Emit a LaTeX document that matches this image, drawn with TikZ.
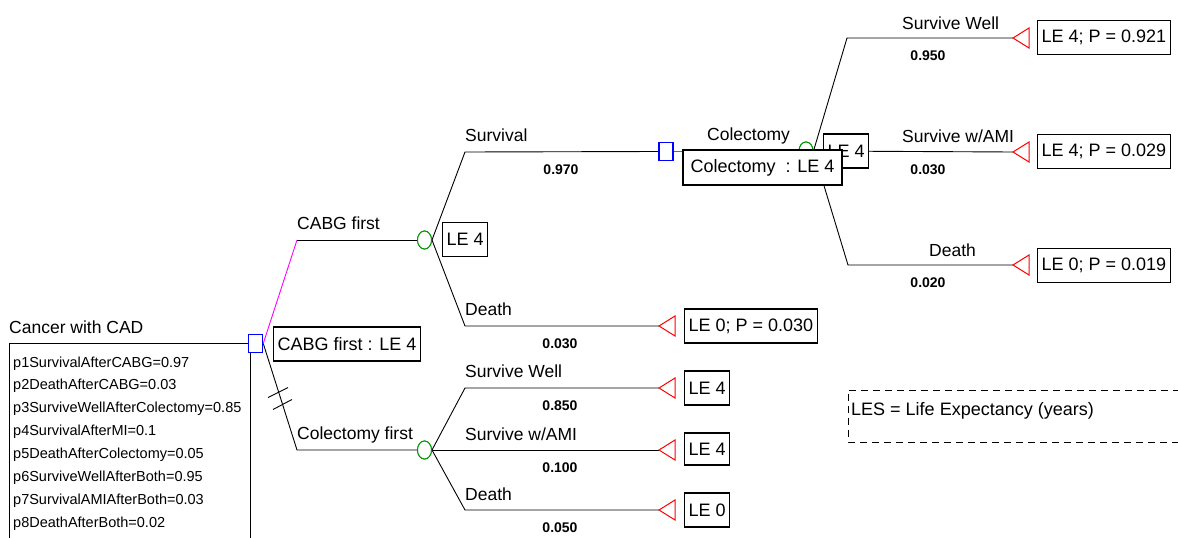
\documentclass[tikz,border=0pt]{standalone}
\usepackage{fontspec}
\setmainfont{Liberation Sans}
\usetikzlibrary{shapes.geometric}
\definecolor{dblue}{RGB}{0,0,255}
\definecolor{mag}{RGB}{255,0,255}
\definecolor{cgreen}{RGB}{0,150,0}
\definecolor{tred}{RGB}{255,0,0}
\tikzset{
  lbl/.style={font=\fontsize{17.5}{20}\selectfont, inner sep=0pt, anchor=base west},
  par/.style={font=\fontsize{14.5}{17}\selectfont, inner sep=0pt, anchor=base west},
  prob/.style={font=\bfseries\fontsize{14}{16}\selectfont, inner sep=0pt, anchor=base},
  box/.style={draw, line width=1.2pt, fill=white, font=\fontsize{18}{20}\selectfont, minimum height=34pt, inner xsep=4pt, inner ysep=0pt, anchor=west},
  decision/.style={draw=dblue, line width=1.5pt, fill=white, minimum width=14pt, minimum height=18pt, inner sep=0pt},
  chance/.style={draw=cgreen, line width=1pt, ellipse, fill=white, minimum width=14pt, minimum height=18pt, inner sep=0pt},
  edge/.style={line width=0.9pt, black},
  pedge/.style={line width=0.9pt, mag},
  term/.style={draw=tred, line width=1pt}
}
\begin{document}
\begin{tikzpicture}[x=1pt,y=-1pt]
\useasboundingbox[fill=white] (0,0) rectangle (1178,538);
% ---------- coordinates ----------
\coordinate (k1) at (297,240);
\coordinate (k2) at (297,450);
\coordinate (k3) at (465,152);
\coordinate (k4) at (465,326);
\coordinate (k5) at (847,38);
\coordinate (k6) at (848,265);
\coordinate (k7) at (465,388);
\coordinate (k8) at (465,510);
\coordinate (tD1) at (659,326);
\coordinate (t1) at (1013,38);
\coordinate (t2) at (1013,152);
\coordinate (t3) at (1013,265);
\coordinate (t4) at (659,388);
\coordinate (t5) at (659,450);
\coordinate (t6) at (659,510);
\coordinate (pbL) at (9,538);
\coordinate (pbR) at (250,538);
% ---------- nodes (decision / chance) ----------
\node[decision] (d0) at (255.5,343.5) {};
\node[chance] (c1) at (424.5,240) {};
\node[chance] (c2) at (424.5,450) {};
\node[decision] (d2) at (666,151.5) {};
\node[chance] (c3) at (806,151) {};
% ---------- connectors ----------
\draw[edge] (pbL) -- (pbL |- d0) -- (d0.west);
\draw[edge] (d0.south -| pbR) -- (pbR);
\draw[pedge] (d0.east) -- (k1);
\draw[edge] (k1) -- (c1.west);
\draw[edge] (d0.east) -- (k2) -- (c2.west);
\draw[edge] (c1.east) -- (k3) -- (d2.west);
\draw[edge] (c1.east) -- (k4) -- (tD1);
\draw[pedge] (d2.east) -- (c3.west);
\draw[edge] (c3.east) -- (k5) -- (t1);
\draw[edge] (c3.east) -- (t2);
\draw[edge] (c3.east) -- (k6) -- (t3);
\draw[edge] (c2.east) -- (k7) -- (t4);
\draw[edge] (c2.east) -- (t5);
\draw[edge] (c2.east) -- (k8) -- (t6);
% hash marks on the Colectomy-first branch
\draw[edge] (268,397.5) -- (288,387.5);
\draw[edge] (273,409.5) -- (292,399.5);
% redraw node outlines on top of lines
\node[decision] at (d0) {};
\node[chance] at (c1) {};
\node[chance] at (c2) {};
\node[decision] at (d2) {};
\node[chance] at (c3) {};
% ---------- terminal triangles ----------
\foreach \t in {tD1,t1,t2,t3,t4,t5,t6}
  \draw[term] (\t) -- ++(16,-10) -- ++(0,20) -- cycle;
% ---------- boxes ----------
\node[box] (b0) at (273,344) {CABG first : LE 4};
\node[box] (b1) at (442,239.5) {LE 4};
\node[box] (b2back) at (823,151) {LE 4};
\node[box, anchor=center, minimum width=159pt, minimum height=35pt] (b2) at (762.5,167.5) {Colectomy~~: LE 4};
\node[box] (e1) at (684,326) {LE 0; P = 0.030};
\node[box] (e2) at (684,388) {LE 4};
\node[box, minimum height=32pt] (e3) at (684,449) {LE 4};
\node[box] (e4) at (684,510) {LE 0};
\node[box] (e5) at (1037,37.5) {LE 4; P = 0.921};
\node[box] (e6) at (1037,151.5) {LE 4; P = 0.029};
\node[box] (e7) at (1037,265.5) {LE 0; P = 0.019};
% ---------- labels ----------
\node[lbl] (lroot) at (9,333) {Cancer with CAD};
\node[lbl] (l1) at (297,229.5) {CABG first};
\node[lbl] (l2) at (297,439.5) {Colectomy first};
\node[lbl] (l3) at (465,141) {Survival};
\node[lbl] (l4) at (465,315.5) {Death};
\node[lbl] (l5) at (707,140) {Colectomy};
\node[lbl] (l6) at (902,29) {Survive Well};
\node[lbl] (l7) at (902,142) {Survive w/AMI};
\node[lbl] (l8) at (929,256) {Death};
\node[lbl] (l9) at (465,377) {Survive Well};
\node[lbl] (l10) at (465,440) {Survive w/AMI};
\node[lbl] (l11) at (465,500) {Death};
% probabilities
\node[prob] (q1) at (561,174) {0.970};
\node[prob] (q2) at (560,348.5) {0.030};
\node[prob] (q3) at (928,60.5) {0.950};
\node[prob] (q4) at (928,174) {0.030};
\node[prob] (q5) at (928,287.5) {0.020};
\node[prob] (q6) at (560,410) {0.850};
\node[prob] (q7) at (560,472.5) {0.100};
\node[prob] (q8) at (560,532.5) {0.050};
% parameters
\node[par] (p1) at (13,367) {p1SurvivalAfterCABG=0.97};
\node[par] (p2) at (13,389.9) {p2DeathAfterCABG=0.03};
\node[par] (p3) at (13,412.8) {p3SurviveWellAfterColectomy=0.85};
\node[par] (p4) at (13,435.7) {p4SurvivalAfterMI=0.1};
\node[par] (p5) at (13,458.6) {p5DeathAfterColectomy=0.05};
\node[par] (p6) at (13,481.5) {p6SurviveWellAfterBoth=0.95};
\node[par] (p7) at (13,504.4) {p7SurvivalAMIAfterBoth=0.03};
\node[par] (p8) at (13,527.3) {p8DeathAfterBoth=0.02};
% legend
\draw[line width=1pt, dash pattern=on 7pt off 5pt] (1180,390) -- (848,390) -- (848,442) -- (1180,442);
\node[lbl, font=\fontsize{18}{20}\selectfont] (les) at (851,415) {LES = Life Expectancy (years)};
\end{tikzpicture}
\end{document}
